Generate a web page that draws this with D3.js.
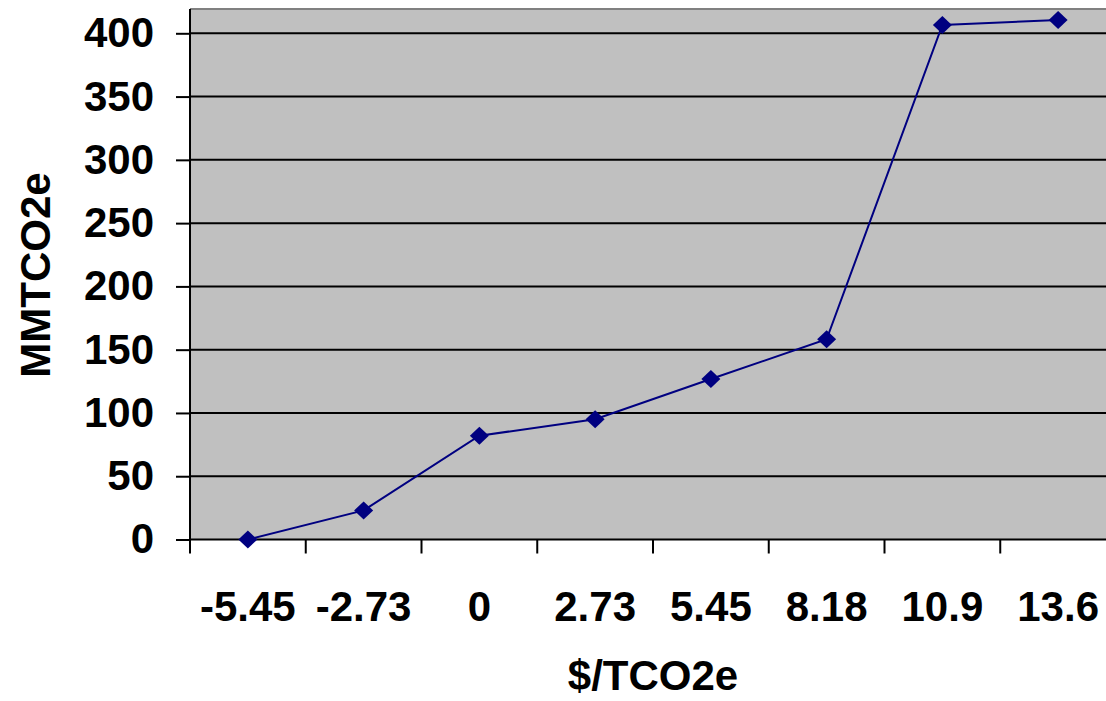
<!DOCTYPE html>
<html>
<head>
<meta charset="utf-8">
<script src="https://cdn.jsdelivr.net/npm/d3@7/dist/d3.min.js"></script>
<style>
html, body { margin: 0; padding: 0; background: #ffffff; overflow: hidden; }
svg { display: block; }
text { font-family: "Liberation Sans", Arial, sans-serif; font-weight: bold; fill: #000; }
</style>
</head>
<body>
<svg id="chart" width="1106" height="701"></svg>
<script>
const categories = ["-5.45", "-2.73", "0", "2.73", "5.45", "8.18", "10.9", "13.6"];
const values = [0, 23, 82, 95, 126.8, 158.2, 406.6, 410.5];
const yTicks = [0, 50, 100, 150, 200, 250, 300, 350, 400];
const xTitle = "$/TCO2e";
const yTitle = "MMTCO2e";

const svg = d3.select("#chart");
const left = 190, right = 1116, y0 = 539.5, y400 = 33.3;

const x = d3.scaleBand().domain(categories).range([left, right]).padding(0);
const y = d3.scaleLinear().domain([0, 400]).range([y0, y400]);
const plotTop = y(419.2);

// plot background
svg.append("rect")
  .attr("x", left).attr("y", plotTop)
  .attr("width", right - left).attr("height", y0 - plotTop)
  .attr("fill", "#c0c0c0");
// top border
svg.append("line")
  .attr("x1", left).attr("x2", right)
  .attr("y1", plotTop).attr("y2", plotTop)
  .attr("stroke", "#808080").attr("stroke-width", 2);

// gridlines
svg.append("g").selectAll("line")
  .data(yTicks.filter(d => d > 0))
  .join("line")
  .attr("x1", left).attr("x2", right)
  .attr("y1", d => y(d)).attr("y2", d => y(d))
  .attr("stroke", "#000").attr("stroke-width", 2);

// y axis
const yAxis = d3.axisLeft(y).tickValues(yTicks).tickSize(14).tickPadding(22);
const gy = svg.append("g").attr("transform", `translate(${left},0)`).call(yAxis);
gy.select(".domain").attr("d", `M0,${plotTop}V${y0}`).attr("stroke", "#000").attr("stroke-width", 2);
gy.selectAll(".tick line").attr("stroke", "#000").attr("stroke-width", 2);
gy.selectAll(".tick text").attr("font-size", 42).attr("font-family", "Liberation Sans, Arial, sans-serif").attr("font-weight", "bold").attr("fill", "#000");

// x axis
const xTickPos = categories.map(c => x(c));
const gx = svg.append("g").attr("transform", `translate(0,${y0})`);
gx.append("line").attr("x1", left).attr("x2", right).attr("y1", 0).attr("y2", 0)
  .attr("stroke", "#000").attr("stroke-width", 2);
gx.selectAll("line.tick").data(xTickPos).join("line").attr("class", "tick")
  .attr("x1", d => d).attr("x2", d => d).attr("y1", 0).attr("y2", 14)
  .attr("stroke", "#000").attr("stroke-width", 2);
gx.selectAll("text").data(categories).join("text")
  .attr("x", d => x(d) + x.bandwidth() / 2)
  .attr("y", 81)
  .attr("text-anchor", "middle")
  .attr("font-size", 42)
  .text(d => d);

// line
const pts = categories.map((c, i) => [x(c) + x.bandwidth() / 2, y(values[i])]);
svg.append("path")
  .attr("d", d3.line()(pts))
  .attr("fill", "none").attr("stroke", "#000080").attr("stroke-width", 2);

// markers
svg.append("g").selectAll("path")
  .data(pts)
  .join("path")
  .attr("transform", d => `translate(${d[0]},${d[1]})`)
  .attr("d", "M0,-9L9.5,0L0,9L-9.5,0Z")
  .attr("fill", "#000080");

// titles
svg.append("text")
  .attr("x", 653).attr("y", 690)
  .attr("text-anchor", "middle")
  .attr("font-size", 42)
  .text(xTitle);

svg.append("text")
  .attr("transform", "translate(50,275) rotate(-90)")
  .attr("text-anchor", "middle")
  .attr("font-size", 42)
  .text(yTitle);
</script>
</body>
</html>
